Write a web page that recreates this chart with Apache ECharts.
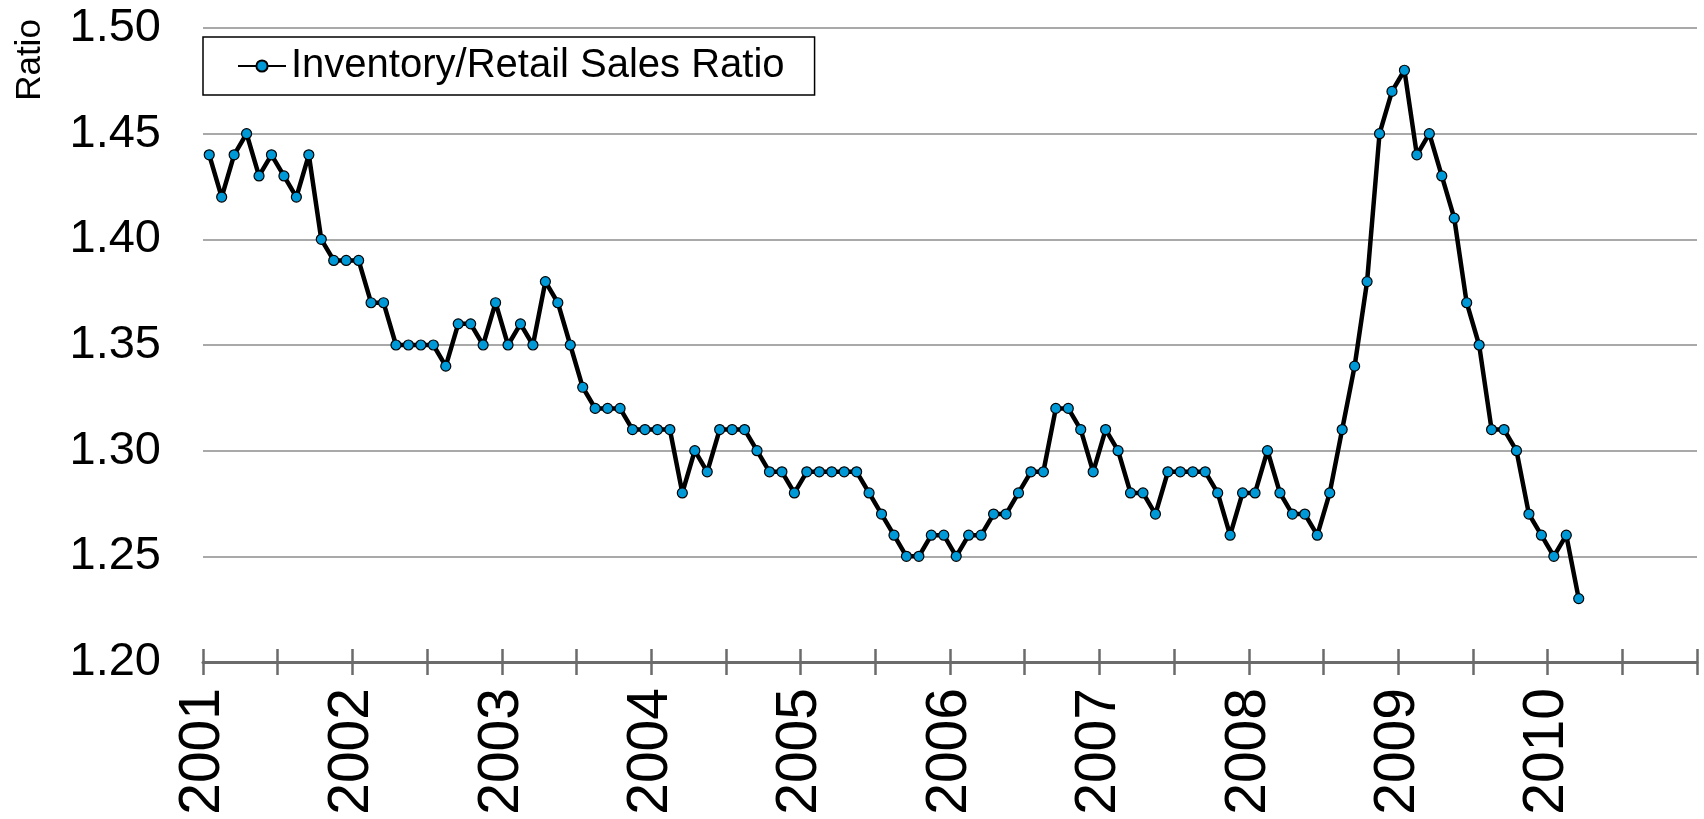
<!DOCTYPE html>
<html>
<head>
<meta charset="utf-8">
<script src="https://cdn.jsdelivr.net/npm/echarts@6/dist/echarts.min.js"></script>
<style>
    html, body { margin: 0; padding: 0; background: #fff; }
    #ratioChart { width: 1704px; height: 819px; }
</style>
</head>
<body>
<div id="ratioChart"></div>
<script>
// monthly inventory / retail sales ratio
let years = ['2001', '2002', '2003', '2004', '2005', '2006', '2007', '2008', '2009', '2010'];
let ratio2001 = [1.44, 1.42, 1.44, 1.45, 1.43, 1.44, 1.43, 1.42, 1.44, 1.40, 1.39, 1.39];
let ratio2002 = [1.39, 1.37, 1.37, 1.35, 1.35, 1.35, 1.35, 1.34, 1.36, 1.36, 1.35, 1.37];
let ratio2003 = [1.35, 1.36, 1.35, 1.38, 1.37, 1.35, 1.33, 1.32, 1.32, 1.32, 1.31, 1.31];
let ratio2004 = [1.31, 1.31, 1.28, 1.30, 1.29, 1.31, 1.31, 1.31, 1.30, 1.29, 1.29, 1.28];
let ratio2005 = [1.29, 1.29, 1.29, 1.29, 1.29, 1.28, 1.27, 1.26, 1.25, 1.25, 1.26, 1.26];
let ratio2006 = [1.25, 1.26, 1.26, 1.27, 1.27, 1.28, 1.29, 1.29, 1.32, 1.32, 1.31, 1.29];
let ratio2007 = [1.31, 1.30, 1.28, 1.28, 1.27, 1.29, 1.29, 1.29, 1.29, 1.28, 1.26, 1.28];
let ratio2008 = [1.28, 1.30, 1.28, 1.27, 1.27, 1.26, 1.28, 1.31, 1.34, 1.38, 1.45, 1.47];
let ratio2009 = [1.48, 1.44, 1.45, 1.43, 1.41, 1.37, 1.35, 1.31, 1.31, 1.30, 1.27, 1.26];
let ratio2010 = [1.25, 1.26, 1.23];

let ratioData = [].concat(ratio2001, ratio2002, ratio2003, ratio2004, ratio2005,
    ratio2006, ratio2007, ratio2008, ratio2009, ratio2010);

// one category per month, 2001-01 .. 2010-12
let months = [];
years.forEach(function (y) {
    for (let m = 1; m <= 12; m++) {
        months.push(y + '-' + (m < 10 ? '0' + m : m));
    }
});

// half-year tick positions, label only on the year boundary
let halfYears = [];
years.forEach(function (y) {
    halfYears.push(y, '');
});
halfYears.push('');

let ratioChart = echarts.init(document.getElementById('ratioChart'));

let axisGrey = '#6b6b6b';
let font = 'Liberation Sans, Arial, sans-serif';

let ratioOption = {
    animation: false,
    backgroundColor: '#fff',
    grid: {
        left: 203,
        right: 7,
        top: 28,
        bottom: 157
    },
    graphic: [
        {
            type: 'text',
            x: 30,
            y: 60,
            rotation: Math.PI / 2,
            style: {
                text: 'Ratio',
                fontFamily: font,
                fontSize: 35,
                fill: '#000',
                align: 'center',
                verticalAlign: 'middle'
            }
        }
    ],
    legend: {
        left: 203,
        top: 37,
        padding: [9, 30, 9, 34],
        borderColor: '#000',
        borderWidth: 1.5,
        itemWidth: 48,
        itemHeight: 14,
        textStyle: {
            fontFamily: font,
            fontSize: 40,
            color: '#000'
        },
        data: ['Inventory/Retail Sales Ratio']
    },
    xAxis: [
        {
            type: 'category',
            data: months,
            boundaryGap: true,
            show: false
        },
        {
            type: 'category',
            data: halfYears,
            boundaryGap: false,
            position: 'bottom',
            axisLine: {
                lineStyle: {color: axisGrey, width: 3}
            },
            axisTick: {
                interval: 0,
                length: 13,
                lineStyle: {color: axisGrey, width: 2.5}
            },
            axisLabel: {
                interval: 0,
                rotate: 90,
                margin: 26,
                fontFamily: font,
                fontSize: 57,
                color: '#000'
            },
            splitLine: {show: false}
        },
        {
            type: 'category',
            data: halfYears,
            boundaryGap: false,
            position: 'bottom',
            axisLine: {show: false},
            axisTick: {
                inside: true,
                interval: 0,
                length: 13,
                lineStyle: {color: axisGrey, width: 2.5}
            },
            axisLabel: {show: false},
            splitLine: {show: false}
        }
    ],
    yAxis: {
        type: 'value',
        min: 1.2,
        max: 1.5,
        interval: 0.05,
        axisLine: {show: false},
        axisTick: {show: false},
        axisLabel: {
            margin: 42,
            fontFamily: font,
            fontSize: 47,
            color: '#000',
            formatter: function (v) {
                return v.toFixed(2);
            }
        },
        splitLine: {
            lineStyle: {color: '#8c8c8c', width: 1.5}
        }
    },
    series: [
        {
            name: 'Inventory/Retail Sales Ratio',
            type: 'line',
            xAxisIndex: 0,
            data: ratioData,
            symbol: 'circle',
            symbolSize: 10,
            showAllSymbol: true,
            lineStyle: {color: '#000', width: 4.5},
            itemStyle: {
                color: '#0099d8',
                borderColor: '#000',
                borderWidth: 1.2
            },
            z: 5
        }
    ]
};
ratioChart.setOption(ratioOption);

window.onresize = function () {
    ratioChart.resize();
};
</script>
</body>
</html>
